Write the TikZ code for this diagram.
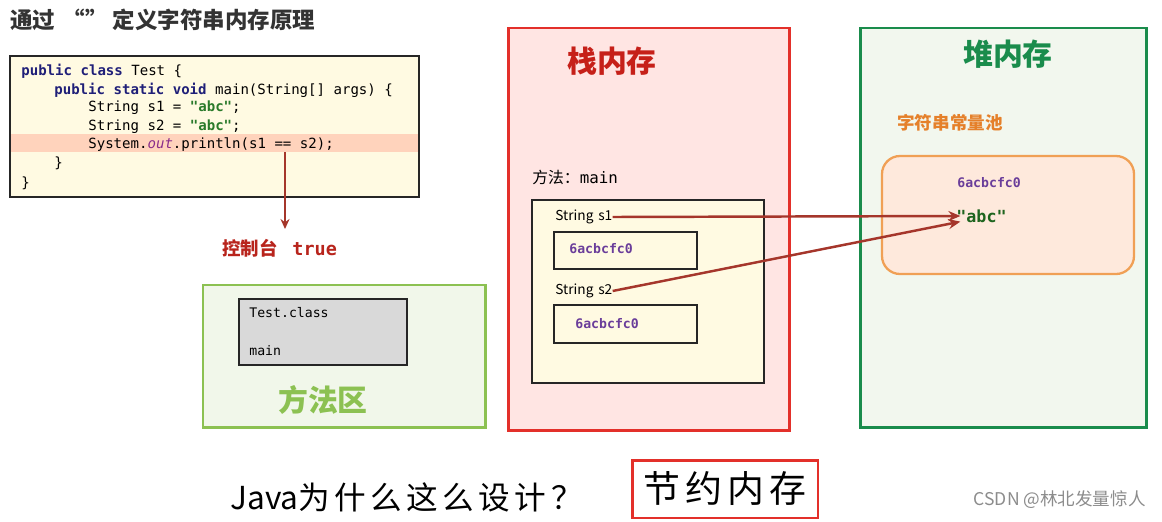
\documentclass[tikz,border=0pt]{standalone}
\usepackage{fontspec}
\setmainfont{Noto Sans CJK SC}
\setmonofont{DejaVu Sans Mono}
\newfontfamily\handfont[LetterSpace=14]{Noto Sans CJK SC}
\usetikzlibrary{arrows.meta, positioning, fit}

\definecolor{kwblue}{HTML}{1F1F78}
\definecolor{strgreen}{HTML}{2A7A2A}
\definecolor{outpurple}{HTML}{8A2C8A}
\definecolor{hexpurple}{HTML}{6A3D9A}
\definecolor{arrowred}{HTML}{A5362B}
\definecolor{consred}{HTML}{B8241C}
\definecolor{codefill}{HTML}{FFFAE2}
\definecolor{hilite}{HTML}{FFD3BC}
\definecolor{areafill}{HTML}{F1F7EA}
\definecolor{areagreen}{HTML}{8CC152}
\definecolor{stackfill}{HTML}{FFE5E3}
\definecolor{stackred}{HTML}{E3302A}
\definecolor{stacktitle}{HTML}{C62019}
\definecolor{heapfill}{HTML}{F2F7EE}
\definecolor{heapgreen}{HTML}{1A8C4C}
\definecolor{poolfill}{HTML}{FEE9DC}
\definecolor{poolline}{HTML}{F0A055}
\definecolor{poolorange}{HTML}{E5802A}
\definecolor{abcgreen}{HTML}{1E641E}

\newcommand{\kw}[1]{\textcolor{kwblue}{\textbf{#1}}}
\newcommand{\strlit}[1]{\textcolor{strgreen}{\textbf{#1}}}

\begin{document}
\begin{tikzpicture}[
    x=0.02cm, y=-0.02cm,
    region/.style={draw, line width=1.7pt, inner sep=0pt},
    frame/.style={draw=black!85, line width=0.8pt, inner sep=0pt},
    code/.style={anchor=west, inner sep=0pt, font=\fontsize{8}{10}\selectfont\ttfamily},
    hex/.style={anchor=west, inner sep=0pt, text=hexpurple, font=\fontsize{7.5}{9}\selectfont\ttfamily\bfseries},
    var/.style={anchor=west, inner sep=0pt, font=\fontsize{7.8}{9}\selectfont},
    area/.style={font=\fontsize{17}{20}\selectfont\bfseries},
    ref/.style={-{Stealth[length=2.4mm, width=2mm]}, line width=1.4pt, draw=arrowred}
]
\useasboundingbox (0,0) rectangle (1162,521);

% Title
\node[anchor=west, inner sep=0pt, text=black!80, font=\fontsize{12.8}{15}\selectfont\bfseries] (title) at (10,20) {通过\hspace{0.3em}“\hspace{0.05em}”\hspace{0.2em}定义字符串内存原理};

% Code
\node[frame, fill=codefill, fit={(10,56) (419,197)}] (codebox) {};
\node[inner sep=0pt, fill=hilite, fit={(11,134) (418,152)}] (hl) {};
\node[code] (l1) at (21,71) {\kw{public class} Test \{};
\node[code] (l2) at (54,90) {\kw{public static void} main(String[] args) \{};
\node[code] (l3) at (88,108) {String s1 = \strlit{"abc"};};
\node[code] (l4) at (88,127) {String s2 = \strlit{"abc"};};
\node[code] (l5) at (88,145) {System.\textcolor{outpurple}{\textit{out}}.println(s1 == s2);};
\node[code] (l6) at (54,163) {\}};
\node[code] (l7) at (21,183) {\}};

% Console output
\coordinate (eq) at (285,152);
\coordinate (eqend) at (285,229);
\node[anchor=west, inner sep=0pt, text=consred, font=\fontsize{10.5}{12}\selectfont\bfseries] (console) at (222,248) {控制台\hspace{0.8em}\texttt{true}};
\draw[-{Stealth[length=2mm, width=1.8mm]}, line width=1pt, draw=arrowred] (eq) -- (eqend);

% Method area
\node[region, draw=areagreen, fill=areafill, fit={(203,285) (485,427)}] (method) {};
\node[frame, fill=black!15, fit={(239,299) (407,365)}] (classbox) {};
\node[code, font=\fontsize{7.5}{9}\selectfont\ttfamily] (cls) at (249,313) {Test.class};
\node[code, font=\fontsize{7.5}{9}\selectfont\ttfamily] (mth) at (249,351) {main};
\node[area, text=areagreen] (methodlbl) at (323,400) {方法区};

% Stack
\node[region, draw=stackred, fill=stackfill, fit={(508,28) (789,430)}] (stack) {};
\node[area, text=stacktitle] (stacklbl) at (612,61) {栈内存};
\node[anchor=west, inner sep=0pt, font=\fontsize{9}{11}\selectfont] (frameLbl) at (532,177) {方法：\texttt{main}};
\node[frame, fill=codefill, fit={(532,200) (764,383)}] (mainframe) {};
\node[var] (s1) at (555,217) {String\hspace{0.35em}s1};
\node[frame, line width=1pt, fit={(554,232) (697,269)}] (s1box) {};
\node[hex] (s1val) at (569,249) {6acbcfc0};
\node[var] (s2) at (555,291) {String\hspace{0.35em}s2};
\node[frame, line width=1pt, fit={(554,305) (697,343)}] (s2box) {};
\node[hex] (s2val) at (575,324) {6acbcfc0};

% Heap
\node[region, draw=heapgreen, fill=heapfill, fit={(860,28) (1146,427)}] (heap) {};
\node[area, text=heapgreen] (heaplbl) at (1008,54) {堆内存};
\node[anchor=west, inner sep=0pt, text=poolorange, font=\fontsize{10}{12}\selectfont\bfseries] (poollbl) at (897,123) {字符串常量池};
\node[draw=poolline, line width=1.3pt, fill=poolfill, rounded corners=0.36cm, inner sep=0pt, fit={(882,156) (1134,274)}] (pool) {};
\node[hex] (poolval) at (957,183) {6acbcfc0};
\node[anchor=west, inner sep=0pt, text=abcgreen, font=\fontsize{9.5}{11}\selectfont\ttfamily\bfseries] (abc) at (956,216) {"abc"};

% References
\draw[ref] (s1.east) -- ([xshift=2.5pt]abc.west);
\draw[ref] (s2.east) -- ([xshift=2.5pt, yshift=-3.2pt]abc.west);

% Bottom
\node[anchor=west, inner sep=0pt, font=\fontsize{18}{20}\selectfont\handfont] (why) at (230,497) {{\normalfont Java}为什么这么设计？};
\node[draw=stackred, line width=1.7pt, inner sep=0pt, minimum width=3.72cm, minimum height=1.16cm, font=\fontsize{21}{24}\selectfont\handfont] (save) at (725,489) {节约内存};
\node[anchor=east, inner sep=0pt, text=black!45, font=\fontsize{10}{12}\selectfont] (mark) at (1146,500) {CSDN @林北发量惊人};

\end{tikzpicture}
\end{document}
